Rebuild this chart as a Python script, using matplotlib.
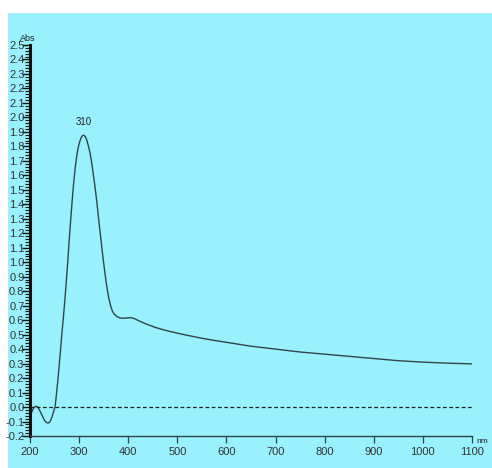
import matplotlib.pyplot as plt
import numpy as np
from matplotlib.ticker import MultipleLocator, FormatStrFormatter

# spectrum (wavelength nm, absorbance)
wavelength = [200, 203, 206, 209, 212, 216, 220, 225, 230, 234, 237, 240, 243, 246, 249, 251,
              253, 256, 259, 262, 265, 268, 271, 274, 277, 280, 283, 286, 289, 292, 295, 298,
              301, 304, 307, 310, 313, 316, 319, 322, 325, 328, 332, 336, 340, 344, 348, 352,
              356, 360, 364, 368, 372, 377, 383, 390, 397, 404, 410, 416, 422, 430, 437, 445,
              455, 470, 485, 500, 525, 550, 575, 600, 650, 700, 750, 800, 850, 900, 950, 1000,
              1050, 1100]
absorbance = [-0.07, -0.04, -0.015, 0.0, 0.005, 0.0, -0.025, -0.06, -0.095, -0.108, -0.11, -0.105,
              -0.085, -0.055, -0.02, 0.0, 0.06, 0.16, 0.27, 0.39, 0.51, 0.62, 0.74, 0.87, 1.01,
              1.16, 1.30, 1.43, 1.55, 1.65, 1.73, 1.79, 1.83, 1.86, 1.875, 1.876, 1.865, 1.84,
              1.80, 1.76, 1.70, 1.63, 1.53, 1.42, 1.29, 1.17, 1.05, 0.94, 0.84, 0.76, 0.70,
              0.66, 0.64, 0.625, 0.615, 0.613, 0.615, 0.617, 0.614, 0.605, 0.595, 0.583, 0.573,
              0.563, 0.55, 0.535, 0.522, 0.51, 0.492, 0.475, 0.46, 0.447, 0.42, 0.40, 0.38,
              0.365, 0.35, 0.335, 0.32, 0.31, 0.303, 0.298]

peak_nm = 310
peak_abs = 1.876
x_ticks = [200, 300, 400, 500, 600, 700, 800, 900, 1000, 1100]

bg = '#98F1FD'
ink = '#34434A'
font = ['Liberation Sans Narrow', 'Liberation Sans', 'DejaVu Sans']

fig = plt.figure(figsize=(4.92, 4.68), dpi=100)
fig.patch.set_facecolor('white')

# cyan panel with a white margin on top and left
bg_ax = fig.add_axes([8 / 492, 0, 1 - 8 / 492, (468 - 13) / 468], zorder=-1)
bg_ax.set_facecolor(bg)
bg_ax.set_xticks([])
bg_ax.set_yticks([])
for s in bg_ax.spines.values():
    s.set_visible(False)

ax = fig.add_axes([30 / 492, 32 / 468, 442 / 492, 391 / 468])
ax.set_facecolor('none')

ax.plot(wavelength, absorbance, color=ink, linewidth=1.0)
ax.axhline(0, color='#222222', linestyle=(0, (3, 2)), linewidth=0.9)

ax.text(peak_nm, peak_abs + 0.06, f"{peak_nm}", ha='center', va='bottom',
        fontsize=7, family=font, color='#222222')

ax.set_xlim(200, 1100)
ax.set_ylim(-0.2, 2.5)

ax.spines['top'].set_visible(False)
ax.spines['right'].set_visible(False)
ax.spines['left'].set_linewidth(2.2)
ax.spines['bottom'].set_linewidth(1.0)
ax.spines['left'].set_color('#111111')
ax.spines['bottom'].set_color(ink)

ax.set_xticks(x_ticks)
ax.set_xticklabels([str(t) for t in x_ticks], fontsize=8, family=font, color='#333333')
ax.tick_params(axis='x', direction='out', length=5, width=0.9, color=ink, pad=3)

ax.yaxis.set_major_locator(MultipleLocator(0.1))
ax.yaxis.set_minor_locator(MultipleLocator(0.02))
ax.yaxis.set_major_formatter(FormatStrFormatter('%.1f'))
ax.tick_params(axis='y', which='major', direction='out', length=6, width=1.0,
               color='#111111', pad=-2, labelsize=8, labelcolor='#333333')
ax.tick_params(axis='y', which='minor', direction='out', length=3.5, width=0.8, color='#111111')
for lab in ax.get_yticklabels():
    lab.set_family(font)

ax.text(-0.005, 1.005, "Abs", transform=ax.transAxes, ha='center', va='bottom',
        fontsize=6.5, family=font, color='#222222')
ax.text(1.01, -0.005, "nm", transform=ax.transAxes, ha='left', va='top',
        fontsize=6, family=font, color='#222222')

fig.savefig('out.png', dpi=100, facecolor=fig.get_facecolor())
